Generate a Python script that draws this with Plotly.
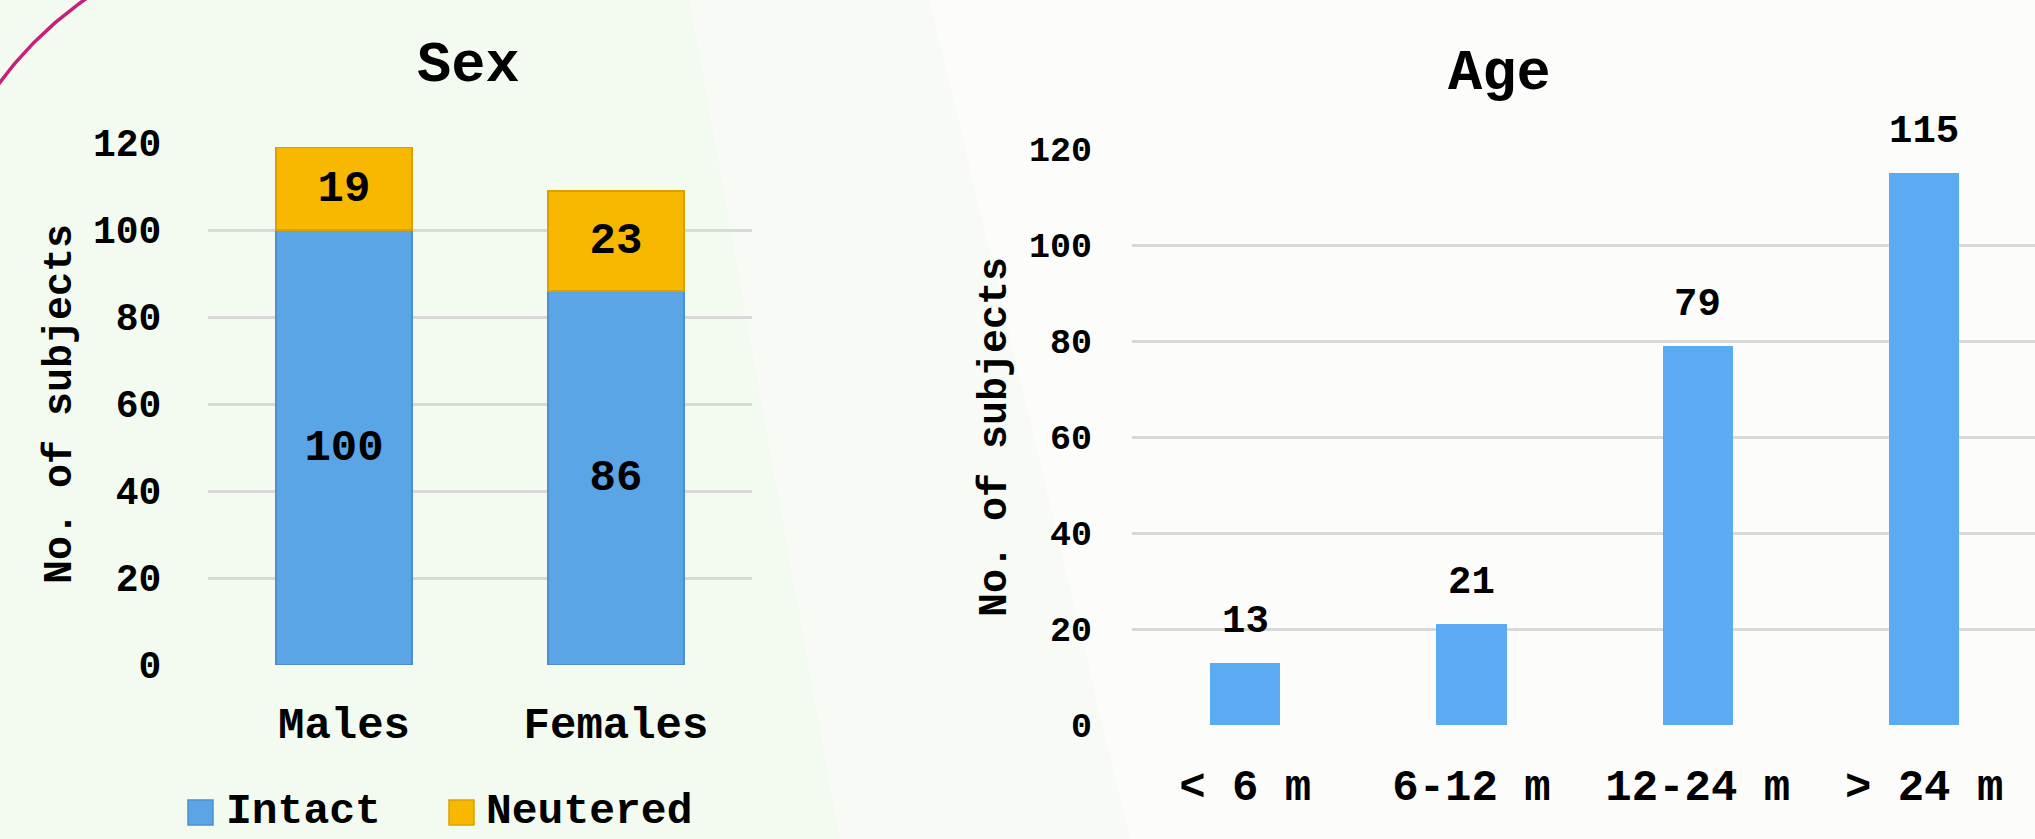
import plotly.graph_objects as go

W, H = 2035, 839

# ---- data ----
sex_categories = ["Males", "Females"]
intact_values = [100, 86]
neutered_values = [19, 23]

age_categories = ["< 6 m", "6-12 m", "12-24 m", "> 24 m"]
age_values = [13, 21, 79, 115]

y_ticks = [0, 20, 40, 60, 80, 100, 120]

FONT = "Liberation Mono"
BLUE_L = "#5BA4E6"
BLUE_R = "#5AABF2"
ORANGE = "#F8B800"

def px_x(x):
    return x / W

def px_y(y):
    return 1 - y / H

def bfont(size):
    return dict(family=FONT, size=size, color="black", weight="bold")

fig = go.Figure()

# decorative arc in the top-left corner, drawn on a hidden full-page overlay axis
p0, pc, p1 = (-2.0, 85.0), (34.0, 35.0), (87.0, -2.0)
arc_x, arc_y = [], []
for i in range(31):
    t = i / 30
    arc_x.append((1 - t) ** 2 * p0[0] + 2 * (1 - t) * t * pc[0] + t ** 2 * p1[0])
    arc_y.append((1 - t) ** 2 * p0[1] + 2 * (1 - t) * t * pc[1] + t ** 2 * p1[1])
fig.add_trace(go.Scatter(
    x=arc_x, y=arc_y, mode="lines", line=dict(color="#C8207A", width=3.5),
    xaxis="x3", yaxis="y3", showlegend=False, hoverinfo="skip",
))

fig.add_trace(go.Bar(
    x=sex_categories, y=intact_values, name="Intact",
    marker=dict(color=BLUE_L, line=dict(color="#4C8ECF", width=1.5)),
    width=0.5, text=intact_values, texttemplate="%{text}",
    textposition="inside", insidetextanchor="middle", constraintext="none",
    textfont=bfont(44),
    xaxis="x", yaxis="y", showlegend=False,
))
fig.add_trace(go.Bar(
    x=sex_categories, y=neutered_values, name="Neutered",
    marker=dict(color=ORANGE, line=dict(color="#D9A200", width=1.5)),
    width=0.5, text=neutered_values, texttemplate="%{text}",
    textposition="inside", insidetextanchor="middle", constraintext="none",
    textfont=bfont(44),
    xaxis="x", yaxis="y", showlegend=False,
))
fig.add_trace(go.Bar(
    x=age_categories, y=age_values, name="Age",
    marker=dict(color=BLUE_R, line=dict(width=0)),
    width=0.31, xaxis="x2", yaxis="y2", showlegend=False,
))

annotations = []
for c, v in zip(age_categories, age_values):
    annotations.append(dict(
        x=c, y=v, xref="x2", yref="y2", text=str(v), showarrow=False,
        xanchor="center", yanchor="bottom", yshift=17,
        font=bfont(39),
    ))

def paper_text(x, y, text, font, angle=0, xanchor="center"):
    return dict(x=px_x(x), y=px_y(y), xref="paper", yref="paper", text=text,
                showarrow=False, xanchor=xanchor, yanchor="middle",
                textangle=angle, font=font)

# titles
annotations.append(paper_text(468, 66, "Sex", bfont(57)))
annotations.append(paper_text(1499, 74, "Age", bfont(57)))
# axis titles
annotations.append(paper_text(60, 404, "No. of subjects", bfont(40), angle=-90))
annotations.append(paper_text(995, 437, "No. of subjects", bfont(40), angle=-90))

# legend (manual)
legend_items = [("Intact", BLUE_L, "#4C8ECF", 188, 224), ("Neutered", ORANGE, "#D9A200", 449, 484)]
shapes = []
# background
bg = [
    ("M 0 0 L %f 0 L %f 1 L 0 1 Z" % (px_x(840), px_x(690)), "#F3FAF0"),
    ("M %f 0 L %f 0 L %f 1 L %f 1 Z" % (px_x(840), px_x(1130), px_x(930), px_x(690)), "#F8FBF5"),
]
for path, col in bg:
    shapes.append(dict(type="path", xref="paper", yref="paper", path=path,
                       fillcolor=col, line=dict(width=0), layer="below"))
for name, col, lcol, rx, tx in legend_items:
    shapes.append(dict(type="rect", xref="paper", yref="paper",
                       x0=px_x(rx), x1=px_x(rx + 25), y0=px_y(825), y1=px_y(800),
                       fillcolor=col, line=dict(color=lcol, width=1.5)))
    annotations.append(paper_text(tx, 811, name, bfont(43), xanchor="left"))

fig.update_layout(
    width=W, height=H,
    margin=dict(l=0, r=0, t=0, b=0, pad=0, autoexpand=False),
    paper_bgcolor="#FCFDFB", plot_bgcolor="rgba(0,0,0,0)",
    barmode="stack", showlegend=False,
    font=dict(family=FONT, color="black"),
    annotations=annotations, shapes=shapes,
    xaxis=dict(domain=[px_x(208), px_x(752)], range=[-0.5, 1.5], automargin=False,
               showline=False, showgrid=False, zeroline=False,
               ticks="outside", ticklen=19, tickcolor="rgba(0,0,0,0)",
               tickfont=bfont(44)),
    yaxis=dict(domain=[px_y(665), px_y(143)], range=[0, 120], automargin=False,
               tickvals=y_ticks, showgrid=True, gridcolor="#D9D9D9", gridwidth=3,
               zeroline=False, showline=False,
               ticks="outside", ticklen=38, tickcolor="rgba(0,0,0,0)",
               tickfont=bfont(38)),
    xaxis2=dict(domain=[px_x(1132), 1.0], range=[-0.5, 3.49], anchor="y2", automargin=False,
                showline=False, showgrid=False, zeroline=False,
                ticks="outside", ticklen=21, tickcolor="rgba(0,0,0,0)",
                tickfont=bfont(44)),
    yaxis2=dict(domain=[px_y(725), px_y(149)], range=[0, 120], anchor="x2", automargin=False,
                tickvals=y_ticks, showgrid=True, gridcolor="#D9D9D9", gridwidth=2.5,
                zeroline=False, showline=False,
                ticks="outside", ticklen=32, tickcolor="rgba(0,0,0,0)",
                tickfont=bfont(35)),
    xaxis3=dict(domain=[0, 1], range=[0, W], visible=False, anchor="y3",
                fixedrange=True),
    yaxis3=dict(domain=[0, 1], range=[H, 0], visible=False, anchor="x3",
                fixedrange=True),
)

fig.write_html("out.html")
